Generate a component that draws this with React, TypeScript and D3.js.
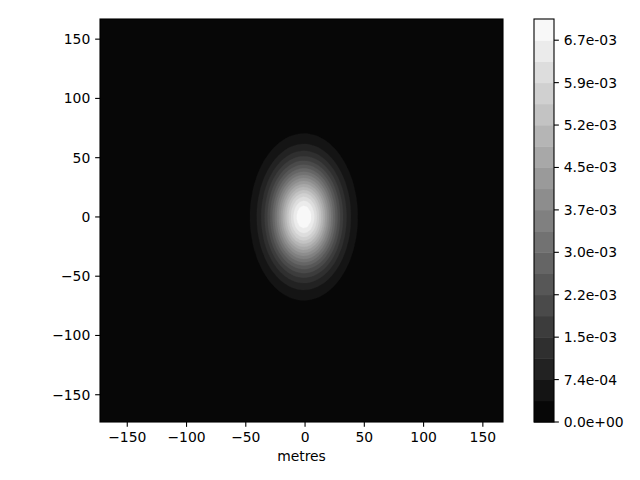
import React, { useMemo } from 'react';
import * as d3 from 'd3';

// ---- data ----
const X_DOMAIN = [-173, 167];
const Y_DOMAIN = [-173, 167];
const X_TICKS = [-150, -100, -50, 0, 50, 100, 150];
const Y_TICKS = [-150, -100, -50, 0, 50, 100, 150];
const X_LABEL = 'metres';
const PEAK = 0.007055;
const CENTER_X = -1;
const CENTER_Y = 0;
const SIGMA_X = 18.7;
const SIGMA_Y = 29;
const N_LEVELS = 20;
const CBAR_TICK_EVERY = 2;
const GRID_N = 110;

// ---- layout ----
const W = 640, H = 480;
const PL = 100, PT = 19, PW = 403, PH = 403;
const CBL = 534, CBW = 20;
const FONT = 'DejaVu Sans, sans-serif';
const FS = 13.9;
const TICK = 4.86;

function fmtAxis(v: number) {
  return String(v).replace('-', '\u2212');
}
function fmtExp(v: number) {
  const s = v.toExponential(1);
  return s.replace(/e([+-])(\d+)$/, (_m, sg, d) => 'e' + sg + (d.length < 2 ? '0' + d : d));
}
function gray(t: number) {
  const g = Math.round(t * 255);
  return `rgb(${g},${g},${g})`;
}

export default function App() {
  const x = d3.scaleLinear().domain(X_DOMAIN).range([PL, PL + PW]);
  const y = d3.scaleLinear().domain(Y_DOMAIN).range([PT + PH, PT]);
  const levels = d3.range(N_LEVELS).map((i) => (PEAK * i) / (N_LEVELS - 1));
  const nBands = N_LEVELS - 1;
  const cb = d3.scaleLinear().domain([0, PEAK]).range([PT + PH, PT]);

  const paths = useMemo(() => {
    const n = GRID_N;
    const dx = (X_DOMAIN[1] - X_DOMAIN[0]) / n;
    const dy = (Y_DOMAIN[1] - Y_DOMAIN[0]) / n;
    const values: number[] = new Array(n * n);
    for (let j = 0; j < n; j++) {
      const yy = Y_DOMAIN[1] - (j + 0.5) * dy;
      for (let i = 0; i < n; i++) {
        const xx = X_DOMAIN[0] + (i + 0.5) * dx;
        const ex = (xx - CENTER_X) / SIGMA_X;
        const ey = (yy - CENTER_Y) / SIGMA_Y;
        values[j * n + i] = PEAK * Math.exp(-0.5 * (ex * ex + ey * ey));
      }
    }
    const thresholds = levels.slice(0, nBands).map((v, i) => (i === 0 ? -1 : v));
    const contours = d3.contours().size([n, n]).thresholds(thresholds)(values);
    const proj = d3.geoTransform({
      point(px: number, py: number) {
        (this as any).stream.point(x(X_DOMAIN[0] + px * dx), y(Y_DOMAIN[1] - py * dy));
      },
    });
    const path = d3.geoPath(proj);
    return contours.map((c, i) => ({ d: path(c as any) || '', fill: gray((i + 0.5) / nBands) }));
  }, []);

  return (
    <svg width={W} height={H} style={{ display: 'block', position: 'absolute', left: 0, top: 0 }}>
      <rect x={0} y={0} width={W} height={H} fill="#fff" />
      <defs>
        <clipPath id="plotclip">
          <rect x={PL} y={PT} width={PW} height={PH} />
        </clipPath>
      </defs>
      <g clipPath="url(#plotclip)">
        <rect x={PL} y={PT} width={PW} height={PH} fill={gray(0.5 / nBands)} />
        {paths.map((p, i) => (
          <path key={i} d={p.d} fill={p.fill} stroke={p.fill} strokeWidth={0.3} />
        ))}
      </g>
      <rect x={PL} y={PT} width={PW} height={PH} fill="none" stroke="#000" strokeWidth={1.1} />
      {/* x axis */}
      {X_TICKS.map((t) => (
        <g key={'x' + t}>
          <line x1={x(t)} x2={x(t)} y1={PT + PH} y2={PT + PH + TICK} stroke="#000" strokeWidth={1.1} />
          <text x={x(t)} y={PT + PH + 20} textAnchor="middle" fontFamily={FONT} fontSize={FS}>
            {fmtAxis(t)}
          </text>
        </g>
      ))}
      <text x={PL + PW / 2} y={461} textAnchor="middle" fontFamily={FONT} fontSize={FS}>
        {X_LABEL}
      </text>
      {/* y axis */}
      {Y_TICKS.map((t) => (
        <g key={'y' + t}>
          <line x1={PL - TICK} x2={PL} y1={y(t)} y2={y(t)} stroke="#000" strokeWidth={1.1} />
          <text x={PL - 9.7} y={y(t) + 5} textAnchor="end" fontFamily={FONT} fontSize={FS}>
            {fmtAxis(t)}
          </text>
        </g>
      ))}
      {/* colorbar */}
      {d3.range(nBands).map((i) => (
        <rect
          key={'cb' + i}
          x={CBL}
          y={cb(levels[i + 1])}
          width={CBW}
          height={cb(levels[i]) - cb(levels[i + 1]) + 0.5}
          fill={gray((i + 0.5) / nBands)}
        />
      ))}
      <rect x={CBL} y={PT} width={CBW} height={PH} fill="none" stroke="#000" strokeWidth={1.1} />
      {levels
        .filter((_, i) => i % CBAR_TICK_EVERY === 0 && i < nBands)
        .map((v) => (
          <g key={'cbt' + v}>
            <line x1={CBL + CBW} x2={CBL + CBW + TICK} y1={cb(v)} y2={cb(v)} stroke="#000" strokeWidth={1.1} />
            <text x={CBL + CBW + 9.7} y={cb(v) + 5} fontFamily={FONT} fontSize={FS}>
              {fmtExp(v)}
            </text>
          </g>
        ))}
    </svg>
  );
}
